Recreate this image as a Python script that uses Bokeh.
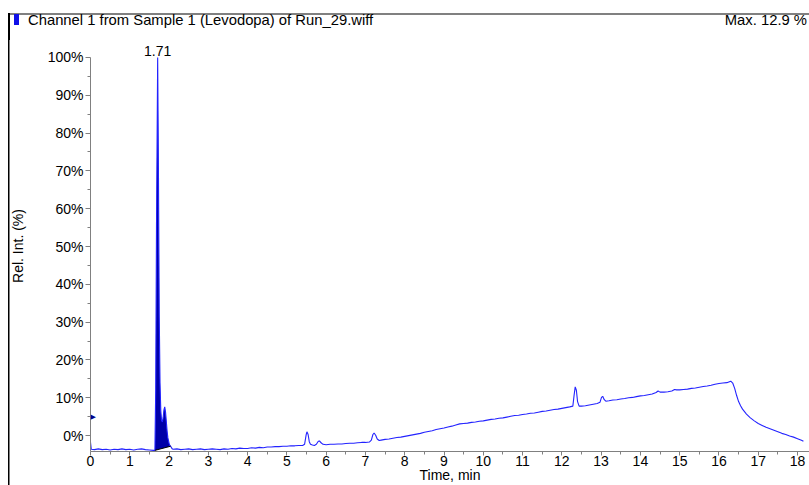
import numpy as np
from bokeh.plotting import figure
from bokeh.layouts import column
from bokeh.models import Range1d, Label, FixedTicker, PrintfTickFormatter, Div
from bokeh.embed import file_html
from bokeh.resources import INLINE

# ---------------- data ----------------
title_text = "Channel 1 from Sample 1 (Levodopa) of Run_29.wiff"
max_text = "Max. 12.9 %"
peak_label = "1.71"
peak_time = 1.71
peak_value = 100
x_label = "Time, min"
y_label = "Rel. Int. (%)"
x_ticks = list(range(0, 19))
y_ticks = list(range(0, 101, 10))
marker_level = 5.0
peak_start, peak_end = 1.64, 2.04

time_min = [0.00, 0.02, 0.1, 0.2, 0.3, 0.4, 0.5, 0.6, 0.7, 0.8, 0.9, 1.0, 1.1, 1.2, 1.3, 1.4, 1.5, 1.6,
            1.64, 1.66, 1.68, 1.71, 1.73, 1.75, 1.77, 1.79, 1.81, 1.83, 1.85, 1.87, 1.89, 1.91, 1.93,
            1.95, 1.97, 2.00, 2.02, 2.04, 2.08, 2.1, 2.2, 2.3, 2.4, 2.5, 2.6, 2.7, 2.8, 2.9, 3.0,
            3.1, 3.2, 3.3, 3.4, 3.5, 3.6, 3.7, 3.8, 3.9, 4.0, 4.1, 4.2, 4.3, 4.4, 4.5, 4.6, 4.7,
            4.8, 4.9, 5.0, 5.1, 5.2, 5.3, 5.4, 5.45, 5.49, 5.51, 5.54, 5.57, 5.6, 5.65, 5.7, 5.75,
            5.8, 5.83, 5.87, 5.92, 6.0, 6.1, 6.2, 6.3, 6.4, 6.5, 6.6, 6.7, 6.8, 6.9, 7.0, 7.1,
            7.15, 7.19, 7.22, 7.26, 7.3, 7.35, 7.4, 7.5, 7.6, 7.7, 7.8, 7.9, 8.0, 8.1, 8.2, 8.3,
            8.4, 8.5, 8.6, 8.7, 8.8, 8.9, 9.0, 9.1, 9.2, 9.3, 9.4, 9.5, 9.6, 9.7, 9.8, 9.9, 10.0,
            10.1, 10.2, 10.3, 10.4, 10.5, 10.6, 10.7, 10.8, 10.9, 11.0, 11.1, 11.2, 11.3, 11.4,
            11.5, 11.6, 11.7, 11.8, 11.9, 12.0, 12.1, 12.2, 12.28, 12.31, 12.34, 12.37, 12.4,
            12.44, 12.5, 12.6, 12.7, 12.8, 12.9, 12.97, 13.01, 13.04, 13.08, 13.12, 13.2, 13.3,
            13.4, 13.5, 13.6, 13.7, 13.8, 13.9, 14.0, 14.1, 14.2, 14.3, 14.4, 14.45, 14.5, 14.6,
            14.7, 14.8, 14.87, 14.92, 15.0, 15.1, 15.2, 15.3, 15.4, 15.5, 15.6, 15.7, 15.8, 15.9,
            16.0, 16.1, 16.2, 16.3, 16.35, 16.4, 16.45, 16.5, 16.55, 16.6, 16.7, 16.8, 16.9, 17.0,
            17.1, 17.2, 17.3, 17.4, 17.5, 17.6, 17.7, 17.8, 17.9, 18.0, 18.1, 18.15]
rel_int = [-1.8, -3.6, -3.7, -3.5, -3.7, -3.6, -3.8, -3.6, -3.7, -3.5, -3.7, -3.6, -3.8, -3.6, -3.5, -3.7, -3.8, -3.9,
           -3.9, 12.0, 55.0, 100.0, 70.0, 32.0, 14.0, 6.5, 4.0, 3.6, 4.8, 6.8, 7.6, 6.2, 3.8,
           1.2, -0.6, -2.0, -2.6, -2.8, -3.5, -3.6, -3.5, -3.7, -3.6, -3.5, -3.7, -3.6, -3.5, -3.7, -3.6,
           -3.5, -3.6, -3.7, -3.5, -3.6, -3.4, -3.5, -3.3, -3.4, -3.4, -3.2, -3.3, -3.1, -3.2, -3.0, -3.0, -2.9,
           -2.9, -2.8, -2.8, -2.7, -2.7, -2.6, -2.6, -2.3, 0.2, 1.0, 0.3, -1.6, -2.3, -2.5, -2.6, -2.3,
           -1.5, -1.4, -1.9, -2.3, -2.4, -2.3, -2.3, -2.2, -2.2, -2.1, -2.0, -2.0, -1.9, -1.8, -1.8, -1.7,
           -1.2, 0.3, 0.7, 0.1, -0.9, -1.3, -1.2, -1.0, -0.9, -0.7, -0.5, -0.4, -0.2, 0.0, 0.2, 0.4,
           0.6, 0.9, 1.1, 1.3, 1.6, 1.8, 2.0, 2.3, 2.5, 2.8, 3.1, 3.2, 3.3, 3.5, 3.6, 3.8, 3.9,
           4.1, 4.3, 4.4, 4.6, 4.7, 4.9, 5.1, 5.3, 5.4, 5.6, 5.7, 5.9, 6.0, 6.2,
           6.4, 6.5, 6.7, 6.9, 7.0, 7.2, 7.4, 7.6, 7.8, 10.5, 12.9, 12.0, 9.0,
           7.8, 7.8, 7.9, 8.1, 8.3, 8.5, 8.8, 10.1, 10.4, 9.5, 9.1, 9.2, 9.4,
           9.5, 9.7, 9.8, 10.0, 10.1, 10.3, 10.5, 10.6, 10.8, 11.0, 11.4, 11.8, 11.5, 11.5,
           11.6, 11.8, 12.2, 12.1, 12.1, 12.2, 12.3, 12.5, 12.6, 12.8, 13.0, 13.1, 13.3, 13.6,
           13.8, 13.9, 14.0, 14.4, 13.9, 12.5, 10.6, 9.0, 7.9, 7.0, 5.7, 4.7, 3.9, 3.2,
           2.7, 2.2, 1.8, 1.4, 1.0, 0.6, 0.3, -0.1, -0.4, -0.8, -1.2, -1.5]

# ---------------- layout sizes ----------------
W = 809
TOTAL_H = 485
HEAD_H = 40
FIG_H = TOTAL_H - HEAD_H
FONT = "Liberation Sans"

# ---------------- header (title bar) ----------------
header_html = f"""
<div style="position:relative;width:{W}px;height:{HEAD_H}px;font-family:'{FONT}',Arial,sans-serif;color:#000;">
  <div style="position:absolute;left:8px;top:13px;width:{W - 8}px;height:2px;background:#808080;"></div>
  <div style="position:absolute;left:8px;top:13px;width:1.5px;height:{HEAD_H - 13}px;background:#000;"></div>
  <div style="position:absolute;left:14px;top:14px;width:5px;height:11px;background:#1010e8;"></div>
  <div style="position:absolute;left:28px;top:13px;font-size:14.8px;line-height:15px;white-space:nowrap;">{title_text}</div>
  <div style="position:absolute;right:2px;top:13px;font-size:14.8px;line-height:15px;white-space:nowrap;">{max_text}</div>
</div>
"""
header = Div(text=header_html, width=W, height=HEAD_H, margin=(0, 0, 0, 0))

# ---------------- figure ----------------
# frame top sits 17 px above the 100 % level (page y 40 vs 57)
p = figure(width=W, height=FIG_H, output_backend="svg", toolbar_location=None,
           x_range=Range1d(0, 18.305), y_range=Range1d(-4.2, 104.48),
           min_border_left=90, min_border_right=0, min_border_top=0, min_border_bottom=0,
           margin=(0, 0, 0, 0))
p.grid.visible = False
p.outline_line_color = None
p.background_fill_color = "white"
p.border_fill_color = None
p.styles = {"background": "linear-gradient(#000000, #000000) no-repeat 8px 0 / 1.5px 100%"}

for ax in (p.xaxis[0], p.yaxis[0]):
    ax.axis_line_color = "#808080"
    ax.major_tick_line_color = "#808080"
    ax.minor_tick_line_color = "#808080"
    ax.major_tick_in = 0
    ax.major_tick_out = 5
    ax.minor_tick_in = 0
    ax.minor_tick_out = 3
    ax.major_label_text_font = FONT
    ax.major_label_text_font_size = "14px"
    ax.major_label_text_color = "#000000"
    ax.axis_label_text_font = FONT
    ax.axis_label_text_font_size = "14px"
    ax.axis_label_text_font_style = "normal"
    ax.axis_label_text_color = "#000000"

p.xaxis.ticker = FixedTicker(ticks=x_ticks, minor_ticks=[t + 0.5 for t in x_ticks])
p.yaxis.ticker = FixedTicker(ticks=y_ticks, minor_ticks=[t + 5 for t in y_ticks[:-1]])
p.yaxis.formatter = PrintfTickFormatter(format="%d%%")
p.yaxis.bounds = (-4.2, 100)
p.xaxis.axis_label = x_label
p.yaxis.axis_label = y_label
p.xaxis.major_tick_out = 4
p.xaxis.major_label_standoff = 0
p.xaxis.axis_label_standoff = -2
p.yaxis.major_label_standoff = 2
p.yaxis.axis_label_standoff = 19

# ---------------- data marks ----------------
t = np.array(time_min)
v = np.array(rel_int)
mask = (t >= peak_start) & (t <= peak_end)
pt, pv = t[mask], v[mask]
base = np.interp(pt, [pt[0], pt[-1]], [pv[0], pv[-1]])
p.varea(x=pt, y1=base, y2=pv, fill_color="#0000a8")
p.line(t, v, line_color="#2323ff", line_width=1.1)
p.line([pt[0], pt[-1]], [pv[0], pv[-1]], line_color="black", line_width=1)

# ---------------- annotations ----------------
p.add_layout(Label(x=peak_time, y=peak_value, y_offset=1, text=peak_label,
                   text_align="center", text_baseline="bottom",
                   text_font=FONT, text_font_size="14px", text_color="#000000"))
p.add_layout(Label(x=0, y=marker_level, x_offset=0, text="\u25B6", text_align="left", text_baseline="middle",
                   text_font="DejaVu Sans", text_font_size="7px", text_color="#00008b"))

layout = column(header, p, spacing=0, margin=(0, 0, 0, 0))
open("out.html", "w").write(file_html(layout, INLINE))
